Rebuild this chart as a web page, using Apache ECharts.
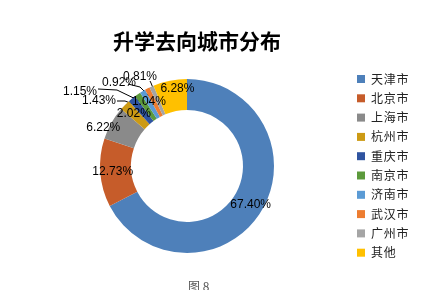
<!DOCTYPE html>
<html><head><meta charset="utf-8">
<script src="https://cdn.jsdelivr.net/npm/echarts@6/dist/echarts.min.js"></script>
<style>html,body{margin:0;padding:0;background:#fff}#c{width:437px;height:290px}</style>
</head><body><div id="c"></div>
<script>
const cities = ['天津市','北京市','上海市','杭州市','重庆市','南京市','济南市','武汉市','广州市','其他'];
const shares = [67.40, 12.73, 6.22, 2.02, 1.43, 1.15, 1.04, 0.92, 0.81, 6.28];
const colors = ['#4E80BA','#C65C2A','#8A8A8A','#CC9A14','#2F54A0','#5C9A3C','#5B9BD5','#ED7D31','#A5A5A5','#FFC000'];
const titleText = '升学去向城市分布';
const figText = '图 8';

// label placement (style/layout only)
const outsideIdx = [4,5,7,8];
const labelPlace = {
  2: {dx: -19, dy: -1},
  9: {dx: 5, dy: -4},
  4: {x: 99, y: 101, align: 'center', verticalAlign: 'middle', labelLinePoints: [[117,101],[125,101],[138,106]]},
  5: {x: 80, y: 92, align: 'center', verticalAlign: 'middle', labelLinePoints: [[98,89],[117,90],[146,104]]},
  7: {x: 119, y: 83, align: 'center', verticalAlign: 'middle', labelLinePoints: [[128,84],[140,87],[153,100]]},
  8: {x: 140, y: 77, align: 'center', verticalAlign: 'middle', labelLinePoints: [[150,81],[151,83],[157,98]]}
};

const chart = echarts.init(document.getElementById('c'), null, {renderer: 'canvas'});
const data = cities.map((n, i) => {
  const outside = outsideIdx.includes(i);
  return {
    name: n, value: shares[i],
    itemStyle: {color: colors[i]},
    label: {position: outside ? 'outside' : 'inside'},
    labelLine: {show: outside}
  };
});
chart.setOption({
  animation: false,
  title: {
    text: titleText, left: 192, top: 26, textAlign: 'center',
    textStyle: {fontFamily: 'Noto Sans CJK SC', fontWeight: 'bold', fontSize: 21, color: '#000'}
  },
  legend: {
    orient: 'vertical', left: 352, top: 68,
    itemWidth: 8, itemHeight: 8, itemGap: 7.3,
    icon: 'rect',
    formatter: n => n.split('').join('\u200A'),
    textStyle: {fontFamily: 'Noto Sans CJK SC', fontSize: 12, color: '#222', padding: [0,0,0,1], lineHeight: 12},
    data: cities
  },
  graphic: [{
    type: 'text', left: 188, top: 280,
    style: {text: figText, font: '12px "Noto Sans CJK SC"', fill: '#555'}
  }],
  series: [{
    type: 'pie',
    radius: [56, 87],
    center: [187, 166],
    startAngle: 90,
    clockwise: true,
    avoidLabelOverlap: false,
    label: {
      show: true,
      formatter: p => p.value.toFixed(2) + '%',
      fontFamily: 'Liberation Sans', fontSize: 12, color: '#000'
    },
    labelLine: {lineStyle: {color: '#000', width: 1}, length: 8, length2: 8},
    labelLayout: p => labelPlace[p.dataIndex] || {},
    data: data
  }]
});
</script></body></html>
